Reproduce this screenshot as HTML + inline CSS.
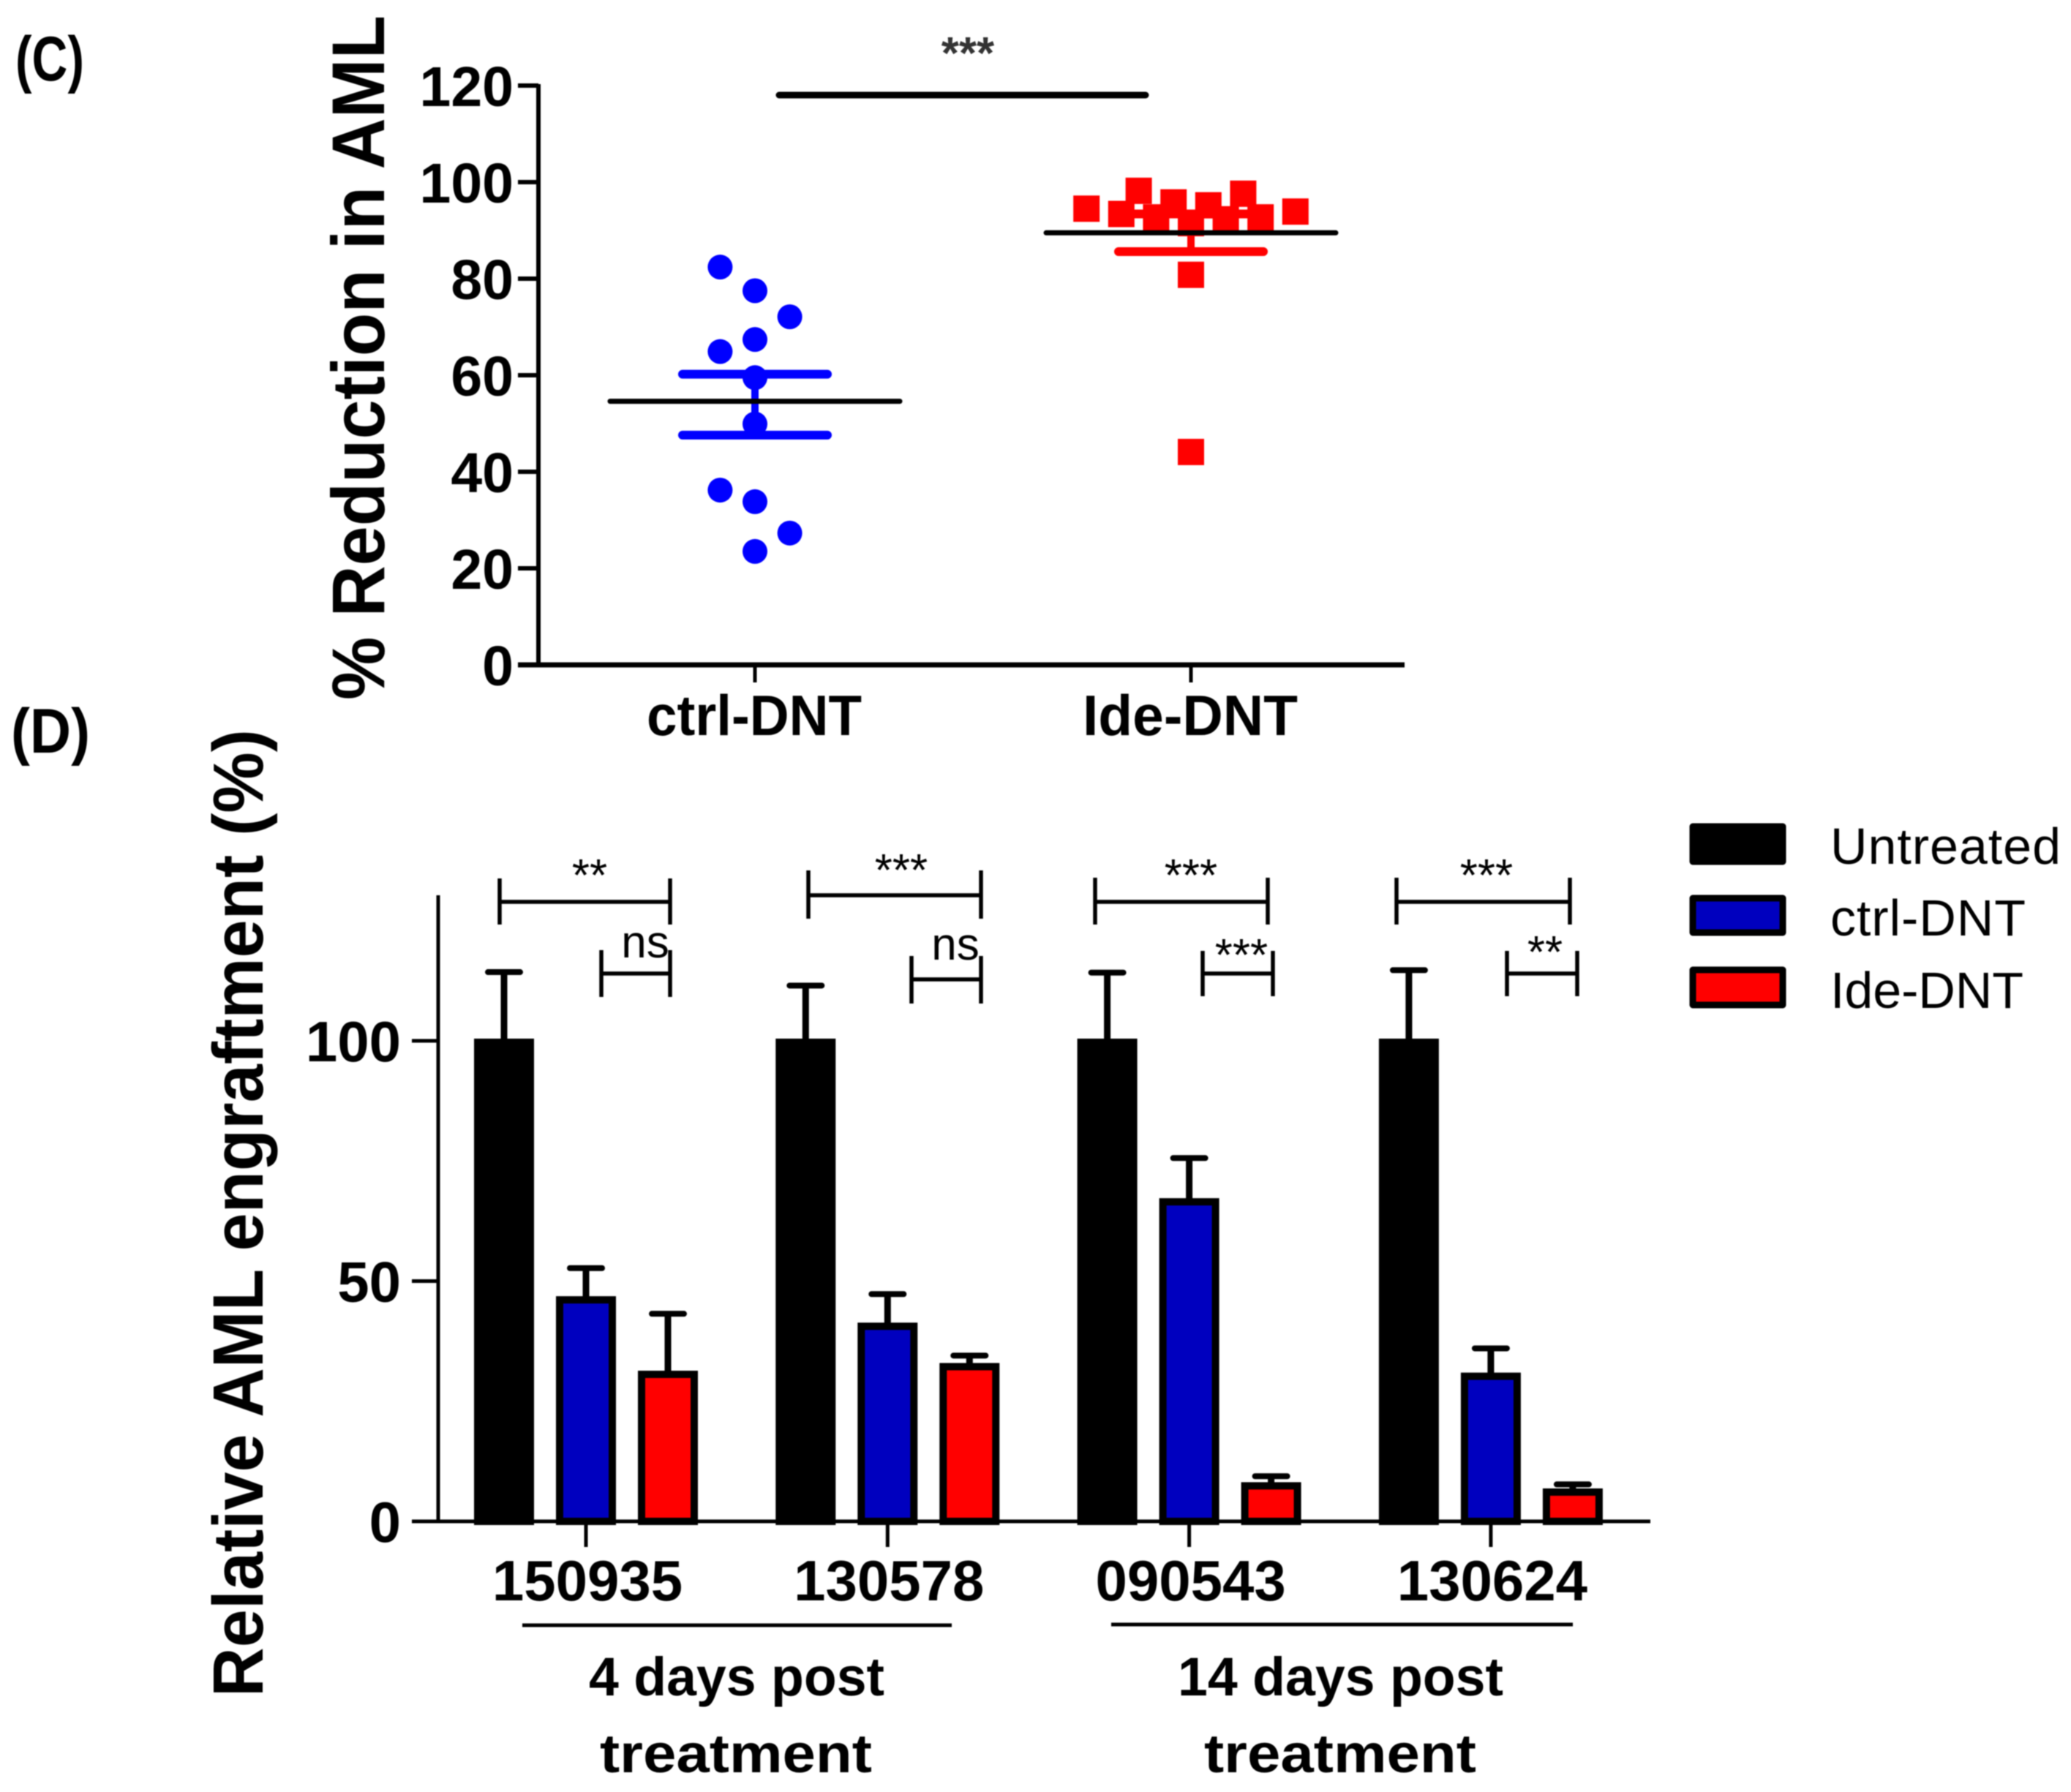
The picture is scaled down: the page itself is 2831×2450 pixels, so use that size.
<!DOCTYPE html>
<html lang="en">
<head>
<meta charset="utf-8">
<title>AML reduction and engraftment charts</title>
<style>
html,body{margin:0;padding:0;background:#fff;}
svg{display:block;filter:blur(0.9px);}
text{font-family:"Liberation Sans",Arial,sans-serif;fill:#000;}
.b{font-weight:bold;}
</style>
</head>
<body>
<svg id="fig" xmlns="http://www.w3.org/2000/svg" width="2831" height="2450" viewBox="0 0 2831 2450">
  <rect x="0" y="0" width="2831" height="2450" fill="#fff"/>
  <text class="b" x="21" y="110" font-size="86" textLength="94" lengthAdjust="spacingAndGlyphs">(C)</text>
  <text class="b" x="15" y="1029" font-size="86" textLength="108" lengthAdjust="spacingAndGlyphs">(D)</text>
  <text class="b" transform="translate(525 957) rotate(-90)" font-size="102" textLength="936" lengthAdjust="spacingAndGlyphs">% Reduction in AML</text>
  <text class="b" transform="translate(359 2320) rotate(-90)" font-size="97" textLength="1323" lengthAdjust="spacingAndGlyphs">Relative AML engraftment (%)</text>

  <g id="chartC"></g>
  <g id="chartD"></g>

  <g>
    <line x1="1065" y1="130" x2="1566" y2="130" stroke="#000" stroke-width="9" stroke-linecap="round"/>
    <text x="1323" y="94" font-size="62" font-weight="bold" text-anchor="middle" style="fill:#333">***</text>
  </g>

  <g fill="none" stroke="#000" stroke-width="5.5">
    <path d="M683 1201V1264M683 1233H916M916 1201V1264"/>
    <path d="M822 1299V1363M822 1331H916M916 1299V1363"/>
    <path d="M1105 1190V1256M1105 1224H1341M1341 1190V1256"/>
    <path d="M1246 1307V1372M1246 1339H1341M1341 1307V1372"/>
    <path d="M1497 1200V1264M1497 1233H1733M1733 1200V1264"/>
    <path d="M1644 1300V1362M1644 1331H1740M1740 1300V1362"/>
    <path d="M1909 1200V1264M1909 1233H2146M2146 1200V1264"/>
    <path d="M2060 1300V1362M2060 1331H2156M2156 1300V1362"/>
  </g>
  <g text-anchor="middle">
    <text x="806" y="1218" font-size="62">**</text>
    <text x="882" y="1309" font-size="62">ns</text>
    <text x="1232" y="1211" font-size="62">***</text>
    <text x="1306" y="1312" font-size="62">ns</text>
    <text x="1628" y="1218" font-size="62">***</text>
    <text x="1697" y="1327" font-size="62">***</text>
    <text x="2032" y="1218" font-size="62">***</text>
    <text x="2112" y="1323" font-size="62">**</text>
  </g>

  <g>
    <line x1="714" y1="2222" x2="1301" y2="2222" stroke="#000" stroke-width="5"/>
    <line x1="1519" y1="2221" x2="2150" y2="2221" stroke="#000" stroke-width="5"/>
    <text class="b" x="805" y="2318" font-size="74" textLength="404" lengthAdjust="spacingAndGlyphs">4 days post</text>
    <text class="b" x="820" y="2423" font-size="74" textLength="372" lengthAdjust="spacingAndGlyphs">treatment</text>
    <text class="b" x="1610" y="2318" font-size="74" textLength="445" lengthAdjust="spacingAndGlyphs">14 days post</text>
    <text class="b" x="1646" y="2423" font-size="74" textLength="372" lengthAdjust="spacingAndGlyphs">treatment</text>
  </g>

  <g>
    <rect x="2314" y="1130" width="123" height="48" fill="#000" stroke="#000" stroke-width="9" stroke-linejoin="round"/>
    <text x="2502" y="1181" font-size="70" textLength="315" lengthAdjust="spacing">Untreated</text>
    <rect x="2314" y="1228" width="123" height="47" fill="#0000bf" stroke="#000" stroke-width="9" stroke-linejoin="round"/>
    <text x="2502" y="1279" font-size="70" textLength="267" lengthAdjust="spacing">ctrl-DNT</text>
    <rect x="2314" y="1326" width="123" height="48" fill="#ff0000" stroke="#000" stroke-width="9" stroke-linejoin="round"/>
    <text x="2502" y="1378" font-size="70" textLength="264" lengthAdjust="spacing">Ide-DNT</text>
  </g>
</svg>
<script>
// ---- Panel C data ----
const cTickLabels = [0, 20, 40, 60, 80, 100, 120];
const cCategories = ["ctrl-DNT", "Ide-DNT"];
const ctrlValues = [82.4, 77.5, 72.1, 67.4, 64.9, 59.5, 49.9, 36.2, 33.8, 27.3, 23.5];
const ctrlSlots = [-2, 0, 2, 0, -2, 0, 0, -2, 0, 2, 0];
const ctrlStats = {mean: 54.6, upper: 60.2, lower: 47.6};
const ideValues = [94.5, 93.4, 98.2, 92.7, 95.8, 91.5, 95.2, 92.3, 97.6, 92.7, 93.9, 80.8, 44.1];
const ideSlots = [-6, -4, -3, -2, -1, 0, 1, 2, 3, 4, 6, 0, 0];
const ideStats = {mean: 89.5, upper: 93.4, lower: 85.6};

// ---- Panel D data ----
const dTickLabels = [0, 50, 100];
const dCategories = ["150935", "130578", "090543", "130624"];
const untreatedValues = [100, 100, 100, 100];
const untreatedErrors = [14.3, 11.5, 14.2, 14.7];
const ctrlBarValues = [46.4, 40.9, 66.8, 30.5];
const ctrlBarErrors = [6.3, 6.4, 8.8, 5.5];
const ideBarValues = [30.9, 32.5, 7.7, 6.4];
const ideBarErrors = [12.3, 2.0, 1.7, 1.3];

const NS = "http://www.w3.org/2000/svg";
function mk(parent, tag, attrs, txt) {
  const el = document.createElementNS(NS, tag);
  for (const k in attrs) el.setAttribute(k, attrs[k]);
  
  if (txt !== undefined) el.textContent = txt;
  parent.appendChild(el);
  return el;
}
let el;

// ---- Panel C axes ----
const C = document.getElementById("chartC");
const yC = v => 909 - v * (792 / 120);
const xC = (c, slot) => 1032 + 596 * c + 23.8 * slot;

el = mk(C, "line", {x1: 736, x2: 736, y1: yC(120) - 2, y2: yC(0), stroke: "#000", "stroke-width": 6});

el = mk(C, "line", {x1: 708, x2: 1920, y1: yC(0), y2: yC(0), stroke: "#000", "stroke-width": 7});


cTickLabels.forEach(v => {
  el = mk(C, "line", {x1: 708, x2: 736, y1: yC(v), y2: yC(v), stroke: "#000", "stroke-width": 6});
  
  el = mk(C, "text", {x: 702, y: yC(v) + 28, "font-size": 77, "font-weight": "bold", "text-anchor": "end"}, String(v));
  
});
cCategories.forEach((name, i) => {
  el = mk(C, "line", {x1: xC(i, 0), x2: xC(i, 0), y1: yC(0), y2: 933, stroke: "#000", "stroke-width": 5});
  
  el = mk(C, "text", {x: xC(i, 0) - 1, y: 1005, "font-size": 78, "font-weight": "bold", "text-anchor": "middle", textLength: 294, lengthAdjust: "spacingAndGlyphs"}, name);
  
});

function semC(i, stats, color) {
  const cx = xC(i, 0);
  el = mk(C, "line", {x1: cx, x2: cx, y1: yC(stats.upper), y2: yC(stats.lower), stroke: color, "stroke-width": 10});
  
  [stats.upper, stats.lower].forEach(v => {
    el = mk(C, "line", {x1: cx - 99, x2: cx + 99, y1: yC(v), y2: yC(v), stroke: color, "stroke-width": 12, "stroke-linecap": "round"});
    
  });
}
semC(0, ctrlStats, "#0000ff");
semC(1, ideStats, "#ff0000");

ctrlValues.forEach((v, i) => {
  el = mk(C, "circle", {cx: xC(0, ctrlSlots[i]), cy: yC(v), r: 17, fill: "#0000ff"});
  
});
ideValues.forEach((v, i) => {
  el = mk(C, "rect", {x: xC(1, ideSlots[i]) - 18, y: yC(v) - 18, width: 36, height: 36, fill: "#ff0000"});
  
});
[[0, ctrlStats], [1, ideStats]].forEach(([i, stats]) => {
  const cx = xC(i, 0);
  el = mk(C, "line", {x1: cx - 198, x2: cx + 198, y1: yC(stats.mean), y2: yC(stats.mean), stroke: "#000", "stroke-width": 7, "stroke-linecap": "round"});
  
});

// ---- Panel D axes ----
const D = document.getElementById("chartD");
const yD = v => 2080 - v * 6.57;
const xD = i => 801 + 412.3 * i;
const barOffset = 112;

el = mk(D, "line", {x1: 599, x2: 599, y1: 1224, y2: yD(0), stroke: "#000", "stroke-width": 5});

el = mk(D, "line", {x1: 563, x2: 2256, y1: yD(0), y2: yD(0), stroke: "#000", "stroke-width": 5});


dTickLabels.forEach(v => {
  el = mk(D, "line", {x1: 563, x2: 599, y1: yD(v), y2: yD(v), stroke: "#000", "stroke-width": 5});
  
  el = mk(D, "text", {x: 548, y: yD(v) + 28, "font-size": 78, "font-weight": "bold", "text-anchor": "end"}, String(v));
  
});

dCategories.forEach((name, i) => {
  el = mk(D, "line", {x1: xD(i), x2: xD(i), y1: yD(0), y2: 2115, stroke: "#000", "stroke-width": 5});
  
  el = mk(D, "text", {x: xD(i) + 2, y: 2188, "font-size": 78, "font-weight": "bold", "text-anchor": "middle"}, name);
  
});

function errorBar(cx, v, err) {
  el = mk(D, "line", {x1: cx, x2: cx, y1: yD(v), y2: yD(v + err), stroke: "#000", "stroke-width": 9});
  
  el = mk(D, "line", {x1: cx - 22, x2: cx + 22, y1: yD(v + err), y2: yD(v + err), stroke: "#000", "stroke-width": 8, "stroke-linecap": "round"});
  
}
function bar(cx, v, fill) {
  const top = yD(v);
  el = mk(D, "rect", {x: cx - 36, y: top + 2, width: 72, height: Math.max(0, yD(0) - top - 2), fill: fill, stroke: "#000", "stroke-width": 10, "stroke-linejoin": "miter"});
  
}
dCategories.forEach((name, i) => {
  const cx = xD(i);
  errorBar(cx - barOffset, untreatedValues[i], untreatedErrors[i]);
  errorBar(cx, ctrlBarValues[i], ctrlBarErrors[i]);
  errorBar(cx + barOffset, ideBarValues[i], ideBarErrors[i]);
  bar(cx - barOffset, untreatedValues[i], "#000");
  bar(cx, ctrlBarValues[i], "#0000bf");
  bar(cx + barOffset, ideBarValues[i], "#ff0000");
});
</script>
</body>
</html>
